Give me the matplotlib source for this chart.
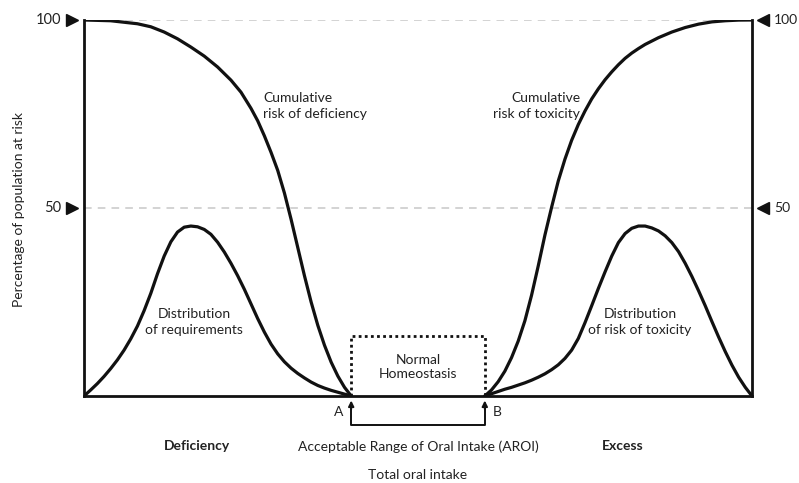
import matplotlib
matplotlib.use("Agg")
import matplotlib.pyplot as plt

plt.rcParams["font.family"] = ["Lato", "DejaVu Sans"]

# curve samples (x: intake 0..100, y: % of population at risk)
def_cum_x = [0, 4, 8, 10, 12, 14, 16, 18, 20, 22, 23.5, 25, 26, 27, 28, 29, 30, 31, 32, 33,
             34, 35, 36, 37, 38, 39, 40]
def_cum_y = [100, 99.8, 99.0, 98.2, 96.8, 95.0, 92.8, 90.4, 87.5, 84.0, 80.8, 76.5, 73.2, 69.2,
             64.8, 60.0, 54.0, 47.0, 39.5, 32.0, 25.0, 18.8, 13.5, 9.0, 5.3, 2.3, 0]

req_x = list(range(0, 41))
req_y = [0, 1.6, 3.3, 5.2, 7.3, 9.6, 12.2, 15.2, 18.6, 22.7, 27.3, 32.5, 37.2, 41.0, 43.6, 44.9,
         45.2, 45.0, 44.3, 43.0, 40.9, 38.3, 35.3, 32.0, 28.4, 24.5, 20.6, 17.0, 13.8, 11.2, 9.1,
         7.4, 6.0, 4.8, 3.7, 2.8, 2.1, 1.5, 1.0, 0.5, 0]

tox_cum_x = [60, 61, 62, 63, 64, 65, 66, 67, 68, 69, 70, 71, 72, 73, 74, 75, 76, 77, 78, 79, 80,
             81, 82, 83, 84, 86, 88, 90, 92, 94, 96, 98, 100]
tox_cum_y = [0, 1.6, 3.8, 6.6, 10.2, 14.6, 20.0, 26.8, 34.6, 42.8, 50.2, 57.2, 63.0, 68.0, 72.2,
             75.8, 79.0, 81.7, 84.1, 86.2, 88.1, 89.8, 91.2, 92.4, 93.5, 95.3, 96.8, 98.0, 98.9,
             99.5, 99.8, 99.97, 100]

tox_x = list(range(60, 101))
tox_y = [0, 0.6, 1.2, 1.8, 2.3, 2.9, 3.5, 4.2, 5.0, 5.9, 7.0, 8.3, 10.0, 12.2, 15.3, 19.5, 24.0,
         28.6, 33.0, 37.2, 40.8, 43.2, 44.6, 45.2, 45.2, 44.7, 43.9, 42.6, 40.8, 38.4, 35.3, 31.8,
         28.0, 24.0, 19.8, 15.7, 11.8, 8.2, 5.0, 2.3, 0]

aroi_a, aroi_b = 40, 60
box_top = 16
ref_levels = [50, 100]
tick_labels = ["50", "100"]

W, H = 799, 483
fig = plt.figure(figsize=(W / 100, H / 100), dpi=100)
ax = fig.add_axes([84 / W, 87 / H, (752 - 84) / W, (396 - 20) / H])
ax.set_xlim(0, 100)
ax.set_ylim(0, 100)

ink = "#111111"
for lvl in ref_levels:
    ax.axhline(lvl, color="#c8c8c8", lw=1.1, ls=(0, (5, 4)), zorder=1)

for xs, ys in [(def_cum_x, def_cum_y), (req_x, req_y), (tox_cum_x, tox_cum_y), (tox_x, tox_y)]:
    ax.plot(xs, ys, color=ink, lw=2.3, solid_capstyle="round", solid_joinstyle="round", zorder=3)

# dotted "normal homeostasis" box
ax.plot([aroi_a, aroi_a, aroi_b, aroi_b], [0, box_top, box_top, 0], color=ink, lw=2.0,
        ls=(0, (1, 1.2)), zorder=2)

ax.spines["top"].set_visible(False)
for s in ["left", "right", "bottom"]:
    ax.spines[s].set_linewidth(2.0)
    ax.spines[s].set_color(ink)
ax.set_xticks([])
ax.set_yticks([])

# triangle tick markers and labels
for lvl, lab in zip(ref_levels, tick_labels):
    ax.plot([-1.8], [lvl], marker=">", ms=9, color=ink, clip_on=False)
    ax.plot([101.7], [lvl], marker="<", ms=9, color=ink, clip_on=False)
    ax.text(-3.4, lvl, lab, ha="right", va="center", fontsize=10.5, color="#222")
    ax.text(103.3, lvl, lab, ha="left", va="center", fontsize=10, color="#222")

# AROI bracket with arrows
yb = -7.7
ax.plot([aroi_a, aroi_a, aroi_b, aroi_b], [-2.5, yb, yb, -2.5], color=ink, lw=1.4, clip_on=False)
for xa in [aroi_a, aroi_b]:
    ax.annotate("", xy=(xa, -1.2), xytext=(xa, -3.5), annotation_clip=False,
                arrowprops=dict(arrowstyle="-|>", color=ink, lw=1.4, mutation_scale=8,
                                shrinkA=0, shrinkB=0))

def t(x, y, s, **kw):
    kw.setdefault("fontsize", 10)
    kw.setdefault("color", "#222")
    fig.text(x / W, 1 - y / H, s, **kw)

t(263, 106, "Cumulative\nrisk of deficiency", ha="left", va="center", linespacing=1.45)
t(580, 106, "Cumulative\nrisk of toxicity", ha="right", va="center", linespacing=1.45, multialignment="right")
t(194, 322, "Distribution\nof requirements", ha="center", va="center", linespacing=1.45)
t(640, 322, "Distribution\nof risk of toxicity", ha="center", va="center", linespacing=1.45)
t(418, 367, "Normal\nHomeostasis", ha="center", va="center", linespacing=1.3)
t(339, 412, "A", ha="center", va="center")
t(497, 412, "B", ha="center", va="center")
t(418, 447, "Acceptable Range of Oral Intake (AROI)", ha="center", va="center")
t(418, 475, "Total oral intake", ha="center", va="center")
t(197, 446, "Deficiency", ha="center", va="center", fontweight="bold")
t(623, 446, "Excess", ha="center", va="center", fontweight="bold")
t(19, 210, "Percentage of population at risk", ha="center", va="center", rotation=90)

fig.savefig("out.png", dpi=100)
